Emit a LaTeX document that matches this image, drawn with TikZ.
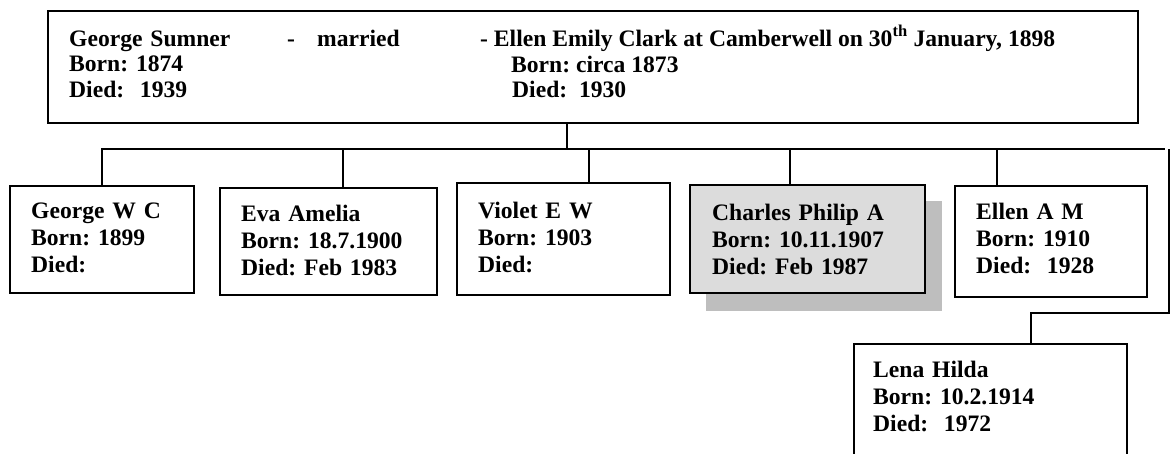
\documentclass[tikz,border=0pt]{standalone}
\usepackage{fontspec}
\setmainfont{Liberation Serif}
\frenchspacing
\begin{document}
\begin{tikzpicture}[x=1pt,y=-1pt,
  pbox/.style={draw, line width=1.6pt, inner sep=0pt},
  wire/.style={line width=1.3pt},
  txt/.style={anchor=base west, inner sep=0pt, align=left, text width=300pt, font=\fontsize{23.6}{27.3}\selectfont\bfseries\frenchspacing},
  ttxt/.style={anchor=base west, inner sep=0pt, font=\fontsize{23.6}{26}\selectfont\bfseries\frenchspacing}]
\clip (0,0) rectangle (1171,453);
\useasboundingbox (0,0) rectangle (1171,453);
% parents box
\node[pbox, minimum width=1090pt, minimum height=112pt] (top) at (593,67) {};
\node[ttxt, align=left, text width=300pt, font=\fontsize{23.6}{25.5}\selectfont\bfseries\frenchspacing] (gs) at (69,46) {George Sumner\\Born: 1874\\Died:\ \ 1939};
\node[ttxt] (dash1) at (287,46) {-};
\node[ttxt] (mar) at (317,46) {married};
\node[ttxt] (ee) at (480,46) {- Ellen Emily Clark at Camberwell on 30\textsuperscript{th} January, 1898};
\node[ttxt] (eeb) at (511,72) {Born: circa 1873};
\node[ttxt] (eed) at (512,97) {Died:\ \ 1930};
% children
\node[pbox, minimum width=184pt, minimum height=107pt] (george) at (102,239.5) {};
\node[txt] (georget) at (31,218) {George W C\\Born: 1899\\Died:};
\node[pbox, minimum width=217pt, minimum height=107pt] (eva) at (328.5,241.5) {};
\node[txt] (evat) at (241,221) {Eva Amelia\\Born: 18.7.1900\\Died: Feb 1983};
\node[pbox, minimum width=213pt, minimum height=112pt] (violet) at (563.5,239) {};
\node[txt] (violett) at (478,218) {Violet E W\\Born: 1903\\Died:};
\node[fill={rgb,255:red,190;green,190;blue,190}, inner sep=0pt, minimum width=236pt, minimum height=110pt] (shadow) at (824,256) {};
\node[pbox, fill={rgb,255:red,220;green,220;blue,220}, minimum width=235pt, minimum height=108pt] (charles) at (807.5,239) {};
\node[txt] (charlest) at (712,220) {Charles Philip A\\Born: 10.11.1907\\Died: Feb 1987};
\node[pbox, minimum width=192pt, minimum height=111pt] (ellen) at (1051,241.5) {};
\node[txt] (ellent) at (976,219) {Ellen A M\\Born: 1910\\Died:\ \ 1928};
\node[pbox, minimum width=273pt, minimum height=136pt] (lena) at (990.5,412) {};
\node[txt] (lenat) at (873,377) {Lena Hilda\\Born: 10.2.1914\\Died:\ \ 1972};
% connectors
\coordinate (bus) at (567,149);
\coordinate (d1) at (102,149);
\coordinate (d2) at (343,149);
\coordinate (d3) at (589,149);
\coordinate (d4) at (790,149);
\coordinate (d5) at (997,149);
\coordinate (dend) at (1165,149);
\coordinate (rc) at (1169,313);
\coordinate (lc) at (1031,313);
\draw[wire] (top.south -| bus) -- (bus);
\draw[wire] (d1 |- george.north) -- (d1) -- (dend);
\draw[wire] (d2) -- (d2 |- eva.north);
\draw[wire] (d3) -- (d3 |- violet.north);
\draw[wire] (d4) -- (d4 |- charles.north);
\draw[wire] (d5) -- (d5 |- ellen.north);
\draw[wire] (rc |- bus) -- (rc) -- (lc) -- (lc |- lena.north);
\end{tikzpicture}
\end{document}
